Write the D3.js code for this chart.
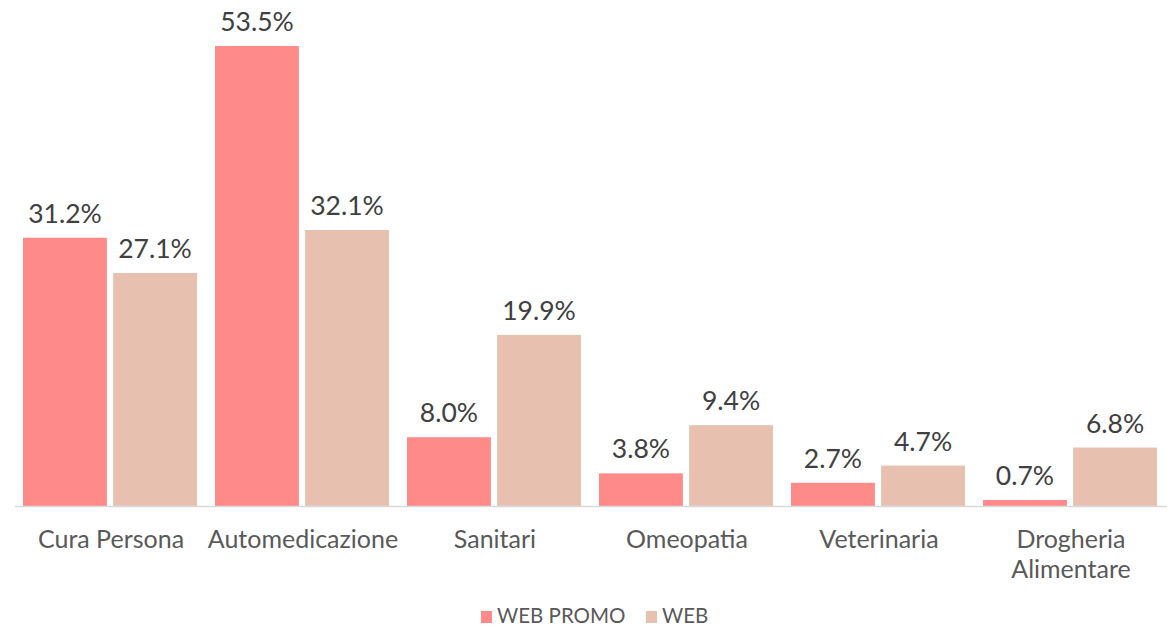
<!DOCTYPE html>
<html>
<head>
<meta charset="utf-8">
<script src="https://cdn.jsdelivr.net/npm/d3@7"></script>
<style>
  body { margin: 0; background: #fff; }
  text { font-family: Lato, "Open Sans", sans-serif; font-weight: 400; }
</style>
</head>
<body>
<div id="chart"></div>
<script>
// Data
const categories = ["Cura Persona", "Automedicazione", "Sanitari", "Omeopatia", "Veterinaria", "Drogheria\nAlimentare"];
const seriesNames = ["WEB PROMO", "WEB"];
const webPromo = [31.2, 53.5, 8.0, 3.8, 2.7, 0.7];
const web = [27.1, 32.1, 19.9, 9.4, 4.7, 6.8];
const colors = ["#FF8A8A", "#E8C0B0"];

const w = 1175, h = 627;
const left = 15, right = 1167, base = 506;

const svg = d3.select("#chart").append("svg")
  .attr("width", w).attr("height", h);

const x0 = d3.scaleBand().domain(categories).range([left, right]).paddingInner(0).paddingOuter(0);
const x1 = d3.scaleBand().domain(seriesNames).range([8, 182]).paddingInner(0.069);
const y = d3.scaleLinear().domain([0, 53.5]).range([base, 46]);

const rows = categories.map((c, i) => ({ cat: c, vals: [webPromo[i], web[i]] }));

const groups = svg.selectAll("g.grp").data(rows).enter().append("g")
  .attr("transform", d => "translate(" + x0(d.cat) + ",0)");

groups.selectAll("rect").data(d => d.vals.map((v, j) => ({ v, s: seriesNames[j], j })))
  .enter().append("rect")
  .attr("x", d => x1(d.s))
  .attr("y", d => y(d.v))
  .attr("width", x1.bandwidth())
  .attr("height", d => base - y(d.v))
  .style("fill", d => colors[d.j]);

groups.selectAll("text.val").data(d => d.vals.map((v, j) => ({ v, s: seriesNames[j] })))
  .enter().append("text")
  .attr("class", "val")
  .attr("x", d => x1(d.s) + x1.bandwidth() / 2)
  .attr("y", d => y(d.v) - 15)
  .attr("text-anchor", "middle")
  .style("font-size", "26.5px")
  .style("fill", "#404040")
  .text(d => d.v.toFixed(1) + "%");

// Axis line
svg.append("line")
  .attr("x1", left).attr("x2", right)
  .attr("y1", base + 0.5).attr("y2", base + 0.5)
  .style("stroke", "#D9D9D9").style("stroke-width", 1.5);

// Category labels
groups.append("text")
  .attr("text-anchor", "middle")
  .style("font-size", "25px")
  .style("fill", "#595959")
  .each(function(d) {
    const lines = d.cat.split("\n");
    d3.select(this).selectAll("tspan").data(lines).enter().append("tspan")
      .attr("x", x0.bandwidth() / 2)
      .attr("y", (l, i) => 548 + i * 30)
      .text(l => l);
  });

// Legend
const legend = svg.append("g");
const lx = [481, 646];
seriesNames.forEach((s, i) => {
  legend.append("rect")
    .attr("x", lx[i]).attr("y", 611)
    .attr("width", 11).attr("height", 12)
    .style("fill", colors[i]);
  legend.append("text")
    .attr("x", lx[i] + 16).attr("y", 623)
    .style("font-size", "20.5px")
    .style("fill", "#595959")
    .text(s);
});
</script>
</body>
</html>
